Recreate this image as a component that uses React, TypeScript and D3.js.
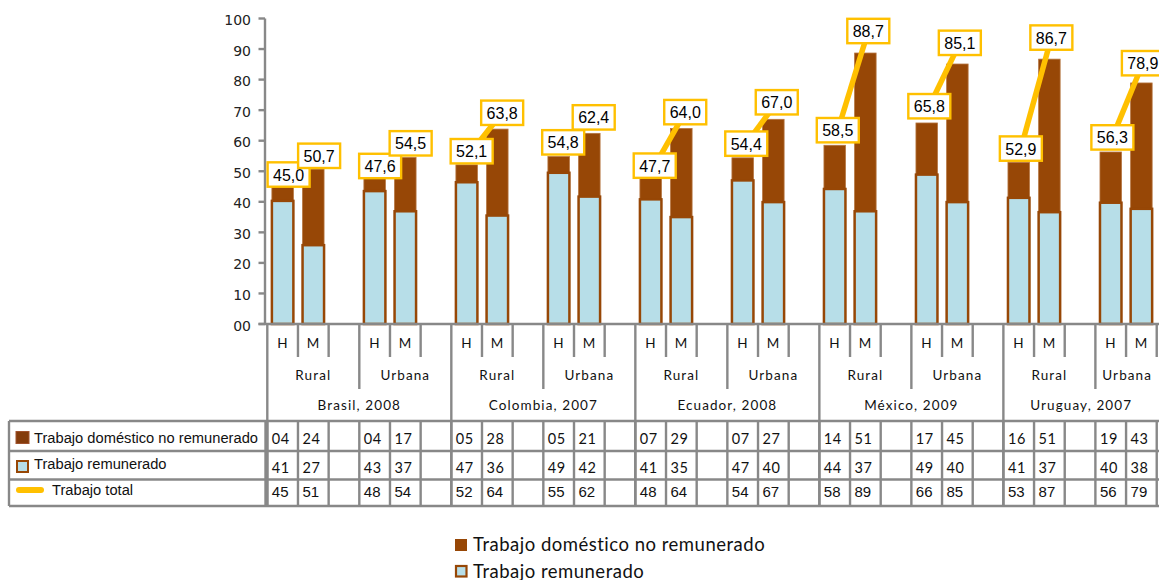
import React from 'react';
import * as d3 from 'd3';

const countries = ['Brasil, 2008', 'Colombia, 2007', 'Ecuador, 2008', 'México, 2009', 'Uruguay, 2007'];
const zones = ['Rural', 'Urbana'];
const sexes = ['H', 'M'];
// order: country -> zone -> sex
const totalValues = [45.0, 50.7, 47.6, 54.5, 52.1, 63.8, 54.8, 62.4, 47.7, 64.0, 54.4, 67.0, 58.5, 88.7, 65.8, 85.1, 52.9, 86.7, 56.3, 78.9];
const paidValues = [40.3, 25.8, 43.5, 36.9, 46.4, 35.5, 49.5, 41.7, 40.8, 35.0, 47.0, 39.9, 44.2, 36.9, 48.9, 39.9, 41.3, 36.6, 39.7, 37.7];
const tableDomestic = [4, 24, 4, 17, 5, 28, 5, 21, 7, 29, 7, 27, 14, 51, 17, 45, 16, 51, 19, 43];
const tablePaid = [41, 27, 43, 37, 47, 36, 49, 42, 41, 35, 47, 40, 44, 37, 49, 40, 41, 37, 40, 38];
const tableTotal = [45, 51, 48, 54, 52, 64, 55, 62, 48, 64, 54, 67, 58, 89, 66, 85, 53, 87, 56, 79];
const yTicks = [0, 10, 20, 30, 40, 50, 60, 70, 80, 90, 100];
const seriesLabels = ['Trabajo doméstico no remunerado', 'Trabajo remunerado', 'Trabajo total'];

const BROWN = '#974706';
const BLUE = '#B7DEE8';
const YELLOW = '#FFC000';
const GRID = '#888888';
const VIEW_RIGHT = 1159;

const SLOTS_PER_GROUP = 6;
const slotIds = d3.range(countries.length * SLOTS_PER_GROUP).map(String);

const x = d3.scaleBand<string>().domain(slotIds).range([267.3, 267.3 + 30 * 30.67]);
const xLine = d3.scaleBand<string>().domain(slotIds).range([273.35, 273.35 + 30 * 30.51]);
const y = d3.scaleLinear().domain([0, 100]).range([324, 18.5]);
const yLine = d3.scaleLinear().domain([0, 100]).range([322.3, -6.1]);

const fmtLabel = (v: number) => d3.format('.1f')(v).replace('.', ',');
const fmtCell = d3.format('02d');
const fmtTick = d3.format('02d');

const records = totalValues.map((t, j) => {
  const g = Math.floor(j / 4);
  const z = Math.floor(j / 2) % 2;
  const s = j % 2;
  const slot = String(g * SLOTS_PER_GROUP + z * 3 + s);
  return { j, g, z, s, slot, total: t, paid: paidValues[j] };
});

const TABLE_TOP = 421;
const ROW_LINES = [421, 451, 479.5, 506];
const TABLE_LEFT = 9;
const LABEL_RIGHT = 265.5;

// centre of the visible part of a span of slots
function spanCenter(startSlot: number, count: number) {
  const step = x.step();
  const a = x.range()[0] + startSlot * step;
  const b = Math.min(a + count * step, VIEW_RIGHT);
  return (a + b) / 2;
}

export default function App() {
  const step = x.step();
  const barW = 21.5;
  const x0 = x.range()[0];
  const boundaries = d3.range(31).map((k) => ({ k, bx: x0 + k * step }));
  const lineW = xLine.bandwidth();

  const pairs = d3.range(10).map((p) => [records[p * 2], records[p * 2 + 1]]);

  return (
    <svg width={1159} height={580} style={{ position: 'absolute', left: 0, top: 0, background: '#fff' }}>
      {/* bars */}
      <g>
        {records.map((r) => {
          const cx = (x(r.slot) as number) + step / 2;
          return (
            <g key={r.j}>
              <rect x={cx - barW / 2} y={y(r.total)} width={barW} height={y(0) - y(r.total)} fill={BROWN} stroke="#B5743F" strokeWidth={0.8} />
              <rect x={cx - barW / 2} y={y(r.paid)} width={barW} height={y(0) - y(r.paid)} fill={BLUE} stroke={BROWN} strokeWidth={2.5} />
            </g>
          );
        })}
      </g>

      {/* axes */}
      <g stroke={GRID} strokeWidth={2.4} fill="none">
        <line x1={265} x2={265} y1={y(100)} y2={y(0)} />
        {yTicks.map((t) => (
          <line key={t} x1={258.5} x2={265} y1={y(t)} y2={y(t)} />
        ))}
        <line x1={258.5} x2={VIEW_RIGHT} y1={y(0)} y2={y(0)} />
        {boundaries.map(({ k, bx }) => {
          const m = k % 6;
          const yEnd = m === 0 ? ROW_LINES[3] : m === 3 ? 389 : 357;
          return <line key={'b' + k} x1={bx} x2={bx} y1={y(0)} y2={yEnd} />;
        })}
        {boundaries.map(({ k, bx }) => (
          <line key={'t' + k} x1={bx} x2={bx} y1={TABLE_TOP} y2={ROW_LINES[3]} />
        ))}
        {ROW_LINES.map((ry) => (
          <line key={'r' + ry} x1={TABLE_LEFT} x2={VIEW_RIGHT} y1={ry} y2={ry} />
        ))}
        <line x1={TABLE_LEFT} x2={TABLE_LEFT} y1={TABLE_TOP} y2={ROW_LINES[3]} />
        <line x1={LABEL_RIGHT} x2={LABEL_RIGHT} y1={TABLE_TOP} y2={ROW_LINES[3]} />
      </g>

      {/* y tick labels */}
      <g fontFamily="DejaVu Sans" fontSize={14} fill="#222" textAnchor="end">
        {yTicks.map((t) => (
          <text key={t} x={251} y={y(t) + 1.5} dominantBaseline="central">{fmtTick(t)}</text>
        ))}
      </g>

      {/* total line */}
      <g>
        {pairs.map(([a, b], i) => (
          <line key={i}
            x1={(xLine(a.slot) as number) + lineW / 2} y1={yLine(a.total)}
            x2={(xLine(b.slot) as number) + lineW / 2} y2={yLine(b.total)}
            stroke={YELLOW} strokeWidth={5.5} />
        ))}
      </g>
      <g>
        {records.map((r) => {
          const cx = (xLine(r.slot) as number) + lineW / 2;
          const cy = yLine(r.total);
          return (
            <g key={'l' + r.j}>
              <rect x={cx - 21} y={cy - 12.2} width={42} height={24.4} fill="#fff" stroke={YELLOW} strokeWidth={2.4} />
              <text x={cx} y={cy + 0.5} textAnchor="middle" dominantBaseline="central" fontFamily="Liberation Sans" fontSize={16} fill="#000">{fmtLabel(r.total)}</text>
            </g>
          );
        })}
      </g>

      {/* category axis labels */}
      <g fontFamily="Lato" fill="#111" textAnchor="middle">
        {records.map((r) => (
          <text key={'s' + r.j} x={(x(r.slot) as number) + step / 2} y={347.7} fontSize={13.5} letterSpacing={0.6}>{sexes[r.s]}</text>
        ))}
        {countries.map((c, g) =>
          zones.map((zn, z) => (
            <text key={'z' + g + z} x={spanCenter(g * 6 + z * 3, 3)} y={380} fontSize={13.5} letterSpacing={1.1}>{zn}</text>
          ))
        )}
        {countries.map((c, g) => (
          <text key={'c' + g} x={spanCenter(g * 6, 6)} y={410} fontSize={13.5} letterSpacing={1.1}>{c}</text>
        ))}
      </g>

      {/* table cells */}
      <g fill="#111">
        {records.map((r) => {
          const lx = (x(r.slot) as number) + 4.5;
          return (
            <g key={'cell' + r.j}>
              <text x={lx} y={444} fontFamily="Lato" fontSize={14.5} letterSpacing={0.6}>{fmtCell(tableDomestic[r.j])}</text>
              <text x={lx} y={472.7} fontFamily="Lato" fontSize={14.5} letterSpacing={0.6}>{fmtCell(tablePaid[r.j])}</text>
              <text x={lx} y={497.3} fontFamily="Liberation Sans" fontSize={15}>{fmtCell(tableTotal[r.j])}</text>
            </g>
          );
        })}
      </g>

      {/* table row labels */}
      <g fontFamily="Liberation Sans" fontSize={14.7} fill="#111">
        <rect x={16} y={431.5} width={13} height={12} fill="#843C0C" stroke="#A0522D" strokeWidth={1} />
        <text x={34} y={443.3}>{seriesLabels[0]}</text>
        <rect x={17} y={461} width={11} height={11} fill={BLUE} stroke={BROWN} strokeWidth={2} />
        <text x={34} y={469.3}>{seriesLabels[1]}</text>
        <line x1={19} x2={41} y1={490} y2={490} stroke={YELLOW} strokeWidth={6} strokeLinecap="round" />
        <text x={52} y={495}>{seriesLabels[2]}</text>
      </g>

      {/* bottom legend */}
      <g fontFamily="Lato" fontSize={18.5} fill="#111">
        <rect x={455} y={539} width={12} height={12} fill={BROWN} />
        <text x={473} y={550.7} letterSpacing={0.5}>{seriesLabels[0]}</text>
        <rect x={456} y={566} width={10.5} height={10.5} fill={BLUE} stroke={BROWN} strokeWidth={2.2} />
        <text x={473} y={577.5} letterSpacing={0.5}>{seriesLabels[1]}</text>
      </g>
    </svg>
  );
}
